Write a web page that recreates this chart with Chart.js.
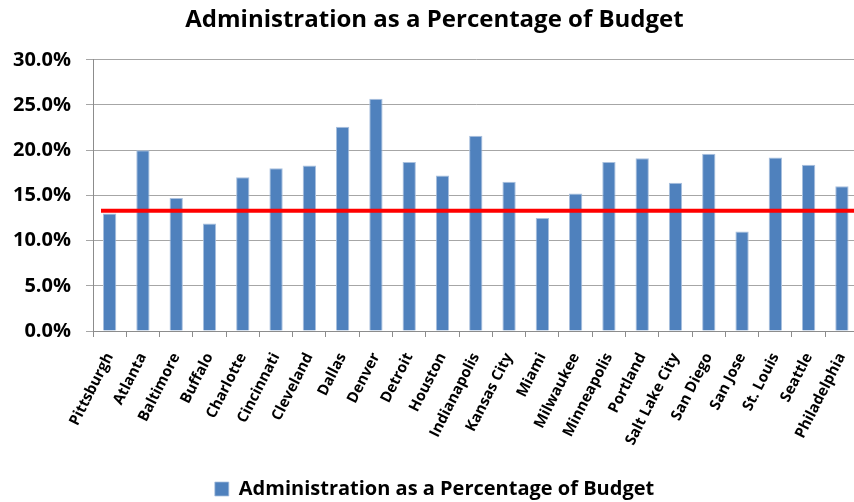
<!DOCTYPE html>
<html>
<head>
<meta charset="utf-8">
<script src="https://cdn.jsdelivr.net/npm/chart.js@4.4.1/dist/chart.umd.min.js"></script>
<style>
  html, body { margin: 0; padding: 0; background: #fff; overflow: hidden; }
  #wrap { width: 871px; height: 502px; }
</style>
</head>
<body>
<div id="wrap"><canvas id="adminChart"></canvas></div>
<script>
const cities = ['Pittsburgh', 'Atlanta', 'Baltimore', 'Buffalo', 'Charlotte', 'Cincinnati',
  'Cleveland', 'Dallas', 'Denver', 'Detroit', 'Houston', 'Indianapolis', 'Kansas City',
  'Miami', 'Milwaukee', 'Minneapolis', 'Portland', 'Salt Lake City', 'San Diego',
  'San Jose', 'St. Louis', 'Seattle', 'Philadelphia'];
const adminPct = [13.0, 20.0, 14.7, 11.9, 17.0, 18.0, 18.3, 22.6, 25.7, 18.7, 17.2, 21.6,
  16.5, 12.5, 15.2, 18.7, 19.1, 16.4, 19.6, 11.0, 19.2, 18.4, 16.0];
const yTicks = [0, 5, 10, 15, 20, 25, 30];
const benchmark = 13.3;

const FONT = '"Open Sans", "Noto Sans", sans-serif';

// red benchmark line across the plot
const benchmarkLine = {
  id: 'benchmarkLine',
  afterDatasetsDraw(chart) {
    const { ctx, chartArea, scales } = chart;
    const y = scales.y.getPixelForValue(benchmark);
    ctx.save();
    ctx.strokeStyle = '#ff0000';
    ctx.lineWidth = 4;
    ctx.beginPath();
    ctx.moveTo(chartArea.left + 8, y);
    ctx.lineTo(chartArea.right, y);
    ctx.stroke();
    ctx.restore();
  }
};

const ctx = document.getElementById('adminChart').getContext('2d');
const chart = new Chart(ctx, {
  type: 'bar',
  data: {
    labels: cities,
    datasets: [{
      label: 'Administration as a Percentage of Budget',
      data: adminPct,
      backgroundColor: '#4f81bd',
      borderColor: '#a9c0de',
      borderWidth: { top: 1, left: 1, right: 1, bottom: 0 },
      barPercentage: 0.4,
      categoryPercentage: 1.0
    }]
  },
  plugins: [benchmarkLine],
  options: {
    responsive: true,
    maintainAspectRatio: false,
    animation: false,
    layout: { padding: { left: 0, right: 2, top: 0, bottom: -7 } },
    plugins: {
      title: {
        display: true,
        text: 'Administration as a Percentage of Budget',
        color: '#000',
        font: { family: FONT, size: 24, weight: 'bold' },
        padding: { top: 6, bottom: 25 }
      },
      legend: {
        position: 'bottom',
        labels: {
          color: '#000',
          font: { family: FONT, size: 20, weight: 'bold' },
          boxWidth: 14,
          boxHeight: 14,
          padding: 0
        }
      },
      tooltip: { enabled: false }
    },
    scales: {
      x: {
        afterFit(scale) { scale.height = 148; },
        border: { color: '#8c8c8c' },
        grid: { drawOnChartArea: false, drawTicks: true, tickLength: 6, color: '#8c8c8c', offset: true },
        ticks: {
          color: '#000',
          font: { family: FONT, size: 15, weight: 'bold' },
          minRotation: 63,
          maxRotation: 63,
          autoSkip: false,
          padding: 13
        }
      },
      y: {
        min: 0,
        max: 30,
        afterFit(scale) { scale.width = 93; },
        afterBuildTicks(scale) { scale.ticks = yTicks.map(v => ({ value: v })); },
        border: { color: '#8c8c8c' },
        grid: { color: '#a6a6a6', tickLength: 7 },
        ticks: {
          color: '#000',
          font: { family: FONT, size: 20, weight: 'bold' },
          padding: 15,
          callback: v => v.toFixed(1) + '%'
        }
      }
    }
  }
});
</script>
</body>
</html>
